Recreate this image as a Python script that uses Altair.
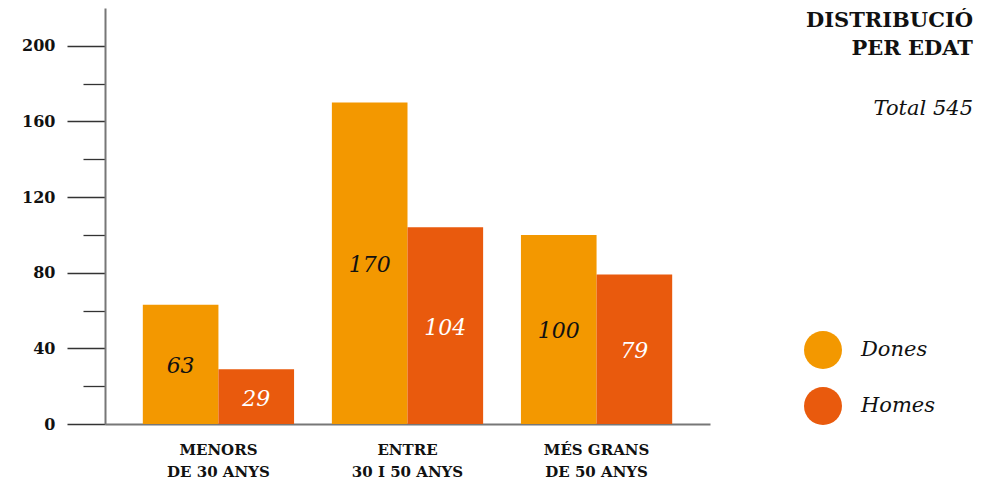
import altair as alt
import pandas as pd

categories = ["MENORS\nDE 30 ANYS", "ENTRE\n30 I 50 ANYS", "MÉS GRANS\nDE 50 ANYS"]
dones = [63, 170, 100]
homes = [29, 104, 79]
series = ["Dones", "Homes"]
colors = ["#F39800", "#E95A0D"]
title_lines = "DISTRIBUCIÓ\nPER EDAT"
subtitle = "Total 545"

rows = []
for c, d, h in zip(categories, dones, homes):
    rows.append({"categoria": c, "sexe": "Dones", "valor": d})
    rows.append({"categoria": c, "sexe": "Homes", "valor": h})
df = pd.DataFrame(rows)

FONT = "DejaVu Serif"

x_enc = alt.X("categoria:N", sort=categories,
              scale=alt.Scale(paddingInner=0.2, paddingOuter=0.2),
              axis=alt.Axis(title=None, labelAngle=0, ticks=False,
                            domainColor="#777", domainWidth=2,
                            labelExpr="split(datum.label, '\\n')",
                            labelFont=FONT, labelFontWeight="bold",
                            labelFontSize=15, labelColor="#111",
                            labelPadding=18, labelLineHeight=22))
y_enc = alt.Y("valor:Q", scale=alt.Scale(domain=[0, 220], nice=False),
              axis=alt.Axis(title=None, grid=False, values=list(range(0, 201, 20)),
                            labelExpr="datum.value % 40 == 0 ? datum.label : ''",
                            tickSize={"condition": {"test": "datum.value % 40 == 0", "value": 38}, "value": 22},
                            tickColor="#333", tickWidth=1.3,
                            domainColor="#777", domainWidth=2,
                            labelFont=FONT, labelFontWeight="bold",
                            labelFontSize=16, labelColor="#111",
                            labelPadding=12))

bars = alt.Chart(df).mark_bar().encode(
    x=x_enc,
    xOffset=alt.XOffset("sexe:N", sort=series),
    y=y_enc,
    color=alt.Color("sexe:N", sort=series,
                    scale=alt.Scale(domain=series, range=colors),
                    legend=alt.Legend(title=None, orient="none", legendX=699, legendY=323,
                                      symbolType="circle", symbolSize=1444,
                                      symbolStrokeWidth=0, symbolOpacity=1,
                                      labelFont=FONT, labelFontStyle="italic",
                                      labelFontSize=21, labelColor="#111",
                                      labelOffset=19, rowPadding=18, padding=0)),
)

labels = alt.Chart(df).transform_calculate(mid="datum.valor / 2").mark_text(
    font=FONT, fontStyle="italic", fontSize=22, baseline="middle", dy=2
).encode(
    x=alt.X("categoria:N", sort=categories),
    xOffset=alt.XOffset("sexe:N", sort=series),
    y=alt.Y("mid:Q"),
    text=alt.Text("valor:Q"),
    color=alt.condition("datum.sexe == 'Dones'", alt.value("#111"), alt.value("white")),
)

tdf = pd.DataFrame({"t": [title_lines]})
title = alt.Chart(tdf).mark_text(
    font=FONT, fontWeight="bold", fontSize=21, align="right", baseline="top",
    lineBreak="\n", lineHeight=28, color="#111"
).encode(x=alt.value(868), y=alt.value(2), text="t:N")

sdf = pd.DataFrame({"t": [subtitle]})
sub = alt.Chart(sdf).mark_text(
    font=FONT, fontStyle="italic", fontSize=21, align="right", baseline="alphabetic",
    color="#111"
).encode(x=alt.value(868), y=alt.value(107), text="t:N")

chart = alt.layer(bars, labels, title, sub).properties(
    width=605, height=416,
    padding={"left": 97, "top": 0, "right": 266, "bottom": 58},
    autosize="none",
).configure_view(stroke=None)

chart.save("out.html", embed_options={"renderer": "svg", "actions": False})
